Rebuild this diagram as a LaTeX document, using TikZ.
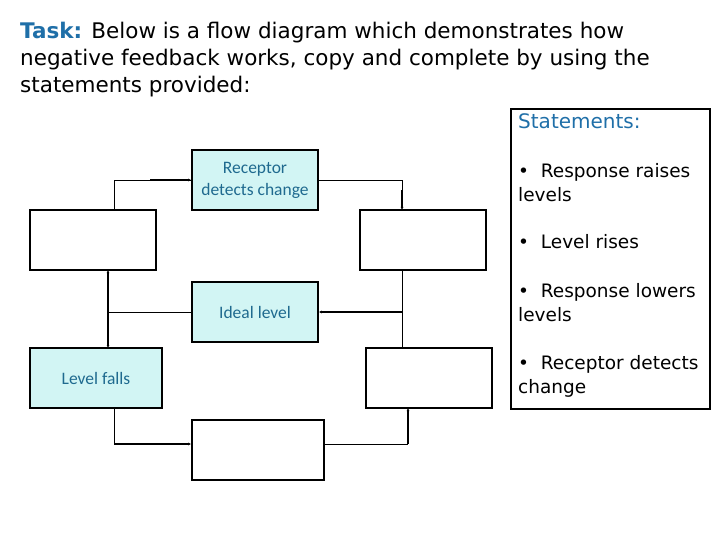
\documentclass[tikz,border=0pt]{standalone}
\usepackage{fontspec}
\usetikzlibrary{arrows.meta}
\setmainfont{DejaVu Sans}
\newfontfamily\boxfont{Carlito}
\begin{document}
\begin{tikzpicture}[x=1pt,y=-1pt,
  box/.style={draw,line width=1.6pt,minimum width=126pt,minimum height=60pt,inner sep=0pt,align=center,font=\boxfont\fontsize{17.5}{22}\selectfont,text=txtblue},
  fill box/.style={box,fill=cyanbg},
  thin/.style={line width=0.8pt},
  thick/.style={line width=1.6pt,-{Latex[length=3pt,width=3pt]}},
]
\definecolor{cyanbg}{HTML}{D2F5F4}
\definecolor{txtblue}{HTML}{1F6A8F}
\definecolor{titleblue}{HTML}{1F6FA8}
\useasboundingbox (0,0) rectangle (720,540);
\node[anchor=north west,align=left,inner sep=0pt,font=\fontsize{21.5}{27}\selectfont] (title) at (20,22)
 {{\color{titleblue}\bfseries Task:} Below is a flow diagram which demonstrates how\\negative feedback works, copy and complete by using the\\statements provided:};
\node[fill box] (rec) at (255,180) {Receptor\\detects change};
\node[box] (lt) at (93,240) {};
\node[box] (rt) at (423,240) {};
\node[fill box] (ideal) at (255,312) {Ideal level};
\node[fill box,minimum width=132pt] (lf) at (96,378) {Level falls};
\node[box] (rb) at (429,378) {};
\node[box,minimum width=132pt] (bot) at (258,450) {};
\coordinate (j1) at (402,312);
\coordinate (j2) at (108,312);
\coordinate (j3) at (0,444);
% connectors
\draw[thin] (114,210) |- (rec.west);
\draw[thick] (150,180) -- (rec.west);
\draw[thin] (rec.east) -| (402,195);
\draw[thick] (402,190) -- (402,210);
\draw[thin] (402,270) -- (402,348);
\draw[thick] (j1) -- (ideal.east);
\draw[thin] (ideal.west) -- (j2);
\draw[thick] (j2) -- (108,270);
\draw[thick] (j2) -- (108,348);
\draw[thin] (114,408) -- (114,444);
\draw[thick] (114,444) -- (bot.west |- j3);
\draw[thin] (bot.east |- j3) -- (408,444);
\draw[thick] (408,444) -- (408,408);
% statements
\node[draw,line width=2pt,minimum width=199pt,minimum height=300pt,anchor=north west] (st) at (510,108) {};
\begin{scope}[every node/.style={anchor=north west,inner sep=0pt,align=left,font=\fontsize{18.5}{24}\selectfont}]
\node[text=titleblue,font=\fontsize{20}{24}\selectfont] (s0) at (518,113) {Statements:};
\node (s1) at (518,163) {• \ Response raises\\levels};
\node (s2) at (518,234) {• \ Level rises};
\node (s3) at (518,283) {• \ Response lowers\\levels};
\node (s4) at (518,355) {• \ Receptor detects\\change};
\end{scope}
\end{tikzpicture}
\end{document}
